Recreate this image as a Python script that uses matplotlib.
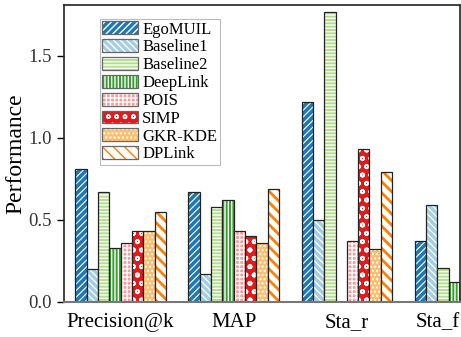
import numpy as np
import matplotlib
matplotlib.use('Agg')
import matplotlib.pyplot as plt
from matplotlib.patches import Patch

metrics = ['Precision@k', 'MAP', 'Sta_r', 'Sta_f']
methods = ['EgoMUIL', 'Baseline1', 'Baseline2', 'DeepLink', 'POIS', 'SIMP', 'GKR-KDE', 'DPLink']

# one list per method, values for the four metrics (nan = not shown in the figure)
egomuil = [0.81, 0.67, 1.22, 0.37]
baseline1 = [0.20, 0.17, 0.50, 0.59]
baseline2 = [0.67, 0.58, 1.77, 0.21]
deeplink = [0.33, 0.62, np.nan, 0.12]
pois = [0.36, 0.43, 0.37, np.nan]
simp = [0.43, 0.40, 0.93, np.nan]
gkr_kde = [0.43, 0.36, 0.32, np.nan]
dplink = [0.55, 0.69, 0.79, np.nan]
values = [egomuil, baseline1, baseline2, deeplink, pois, simp, gkr_kde, dplink]

# (fill colour, hatch colour, hatch, hatch line width)
styles = [
    ('#1f78b4', 'white', '/////', 0.8),
    ('#a6cee3', 'white', '\\\\\\\\\\', 0.9),
    ('#b2df8a', 'white', '-----', 1.0),
    ('#33a02c', 'white', '|||||', 1.0),
    ('#fb9a99', 'white', '++++', 1.0),
    ('#e31a1c', 'white', 'oo', 1.2),
    ('#fdbf6f', 'white', '....', 1.0),
    ('white', '#ff7f00', '\\\\\\', 2.0),
]

plt.rcParams['font.family'] = ['Liberation Serif', 'DejaVu Serif']

fig = plt.figure(figsize=(4.61, 3.37), dpi=100)
ax = fig.add_axes([64 / 461, 35 / 337, 396 / 461, 297 / 337])

x = np.arange(len(metrics)) * 10
handles = []
for i, (name, vals) in enumerate(zip(methods, values)):
    fc, hc, hatch, hlw = styles[i]
    pos = x + (i - 3.5)
    with plt.rc_context({'hatch.linewidth': hlw}):
        ax.bar(pos, vals, width=1.0, color=fc, edgecolor=hc, hatch=hatch, linewidth=0)
        h1 = Patch(facecolor=fc, edgecolor=hc, hatch=hatch, linewidth=0)
    ax.bar(pos, vals, width=1.0, facecolor='none', edgecolor='#222222', linewidth=0.9)
    h2 = Patch(facecolor='none', edgecolor='#666666', linewidth=0.9)
    handles.append((h1, h2))

ax.set_xlim(-5, 30)
ax.set_ylim(0, 1.81)
ax.set_yticks([0.0, 0.5, 1.0, 1.5])
ax.set_yticklabels(['0.0', '0.5', '1.0', '1.5'])
ax.set_xticks(x)
ax.set_xticklabels(metrics)
ax.get_xticklabels()[-1].set_ha('right')
ax.tick_params(axis='x', length=0, labelsize=15, pad=8)
ax.tick_params(axis='y', direction='out', length=5, width=1, labelsize=13.5,
               labelcolor='#333333')
ax.set_ylabel('Performance', fontsize=17, labelpad=2)

for s in ['left', 'top', 'right']:
    ax.spines[s].set_linewidth(1.2)
    ax.spines[s].set_color('#222222')
ax.spines['bottom'].set_linewidth(1.5)
ax.spines['bottom'].set_color('#777777')

leg = ax.legend(handles, methods, loc='upper left', bbox_to_anchor=(0.09, 0.953),
                fontsize=12, frameon=True, fancybox=False, edgecolor='#aaaaaa',
                handlelength=2.15, handleheight=0.8, handletextpad=0.25,
                labelspacing=0.1, borderpad=0.15, borderaxespad=0)
leg.get_frame().set_linewidth(0.8)

fig.savefig('out.png', dpi=100)
